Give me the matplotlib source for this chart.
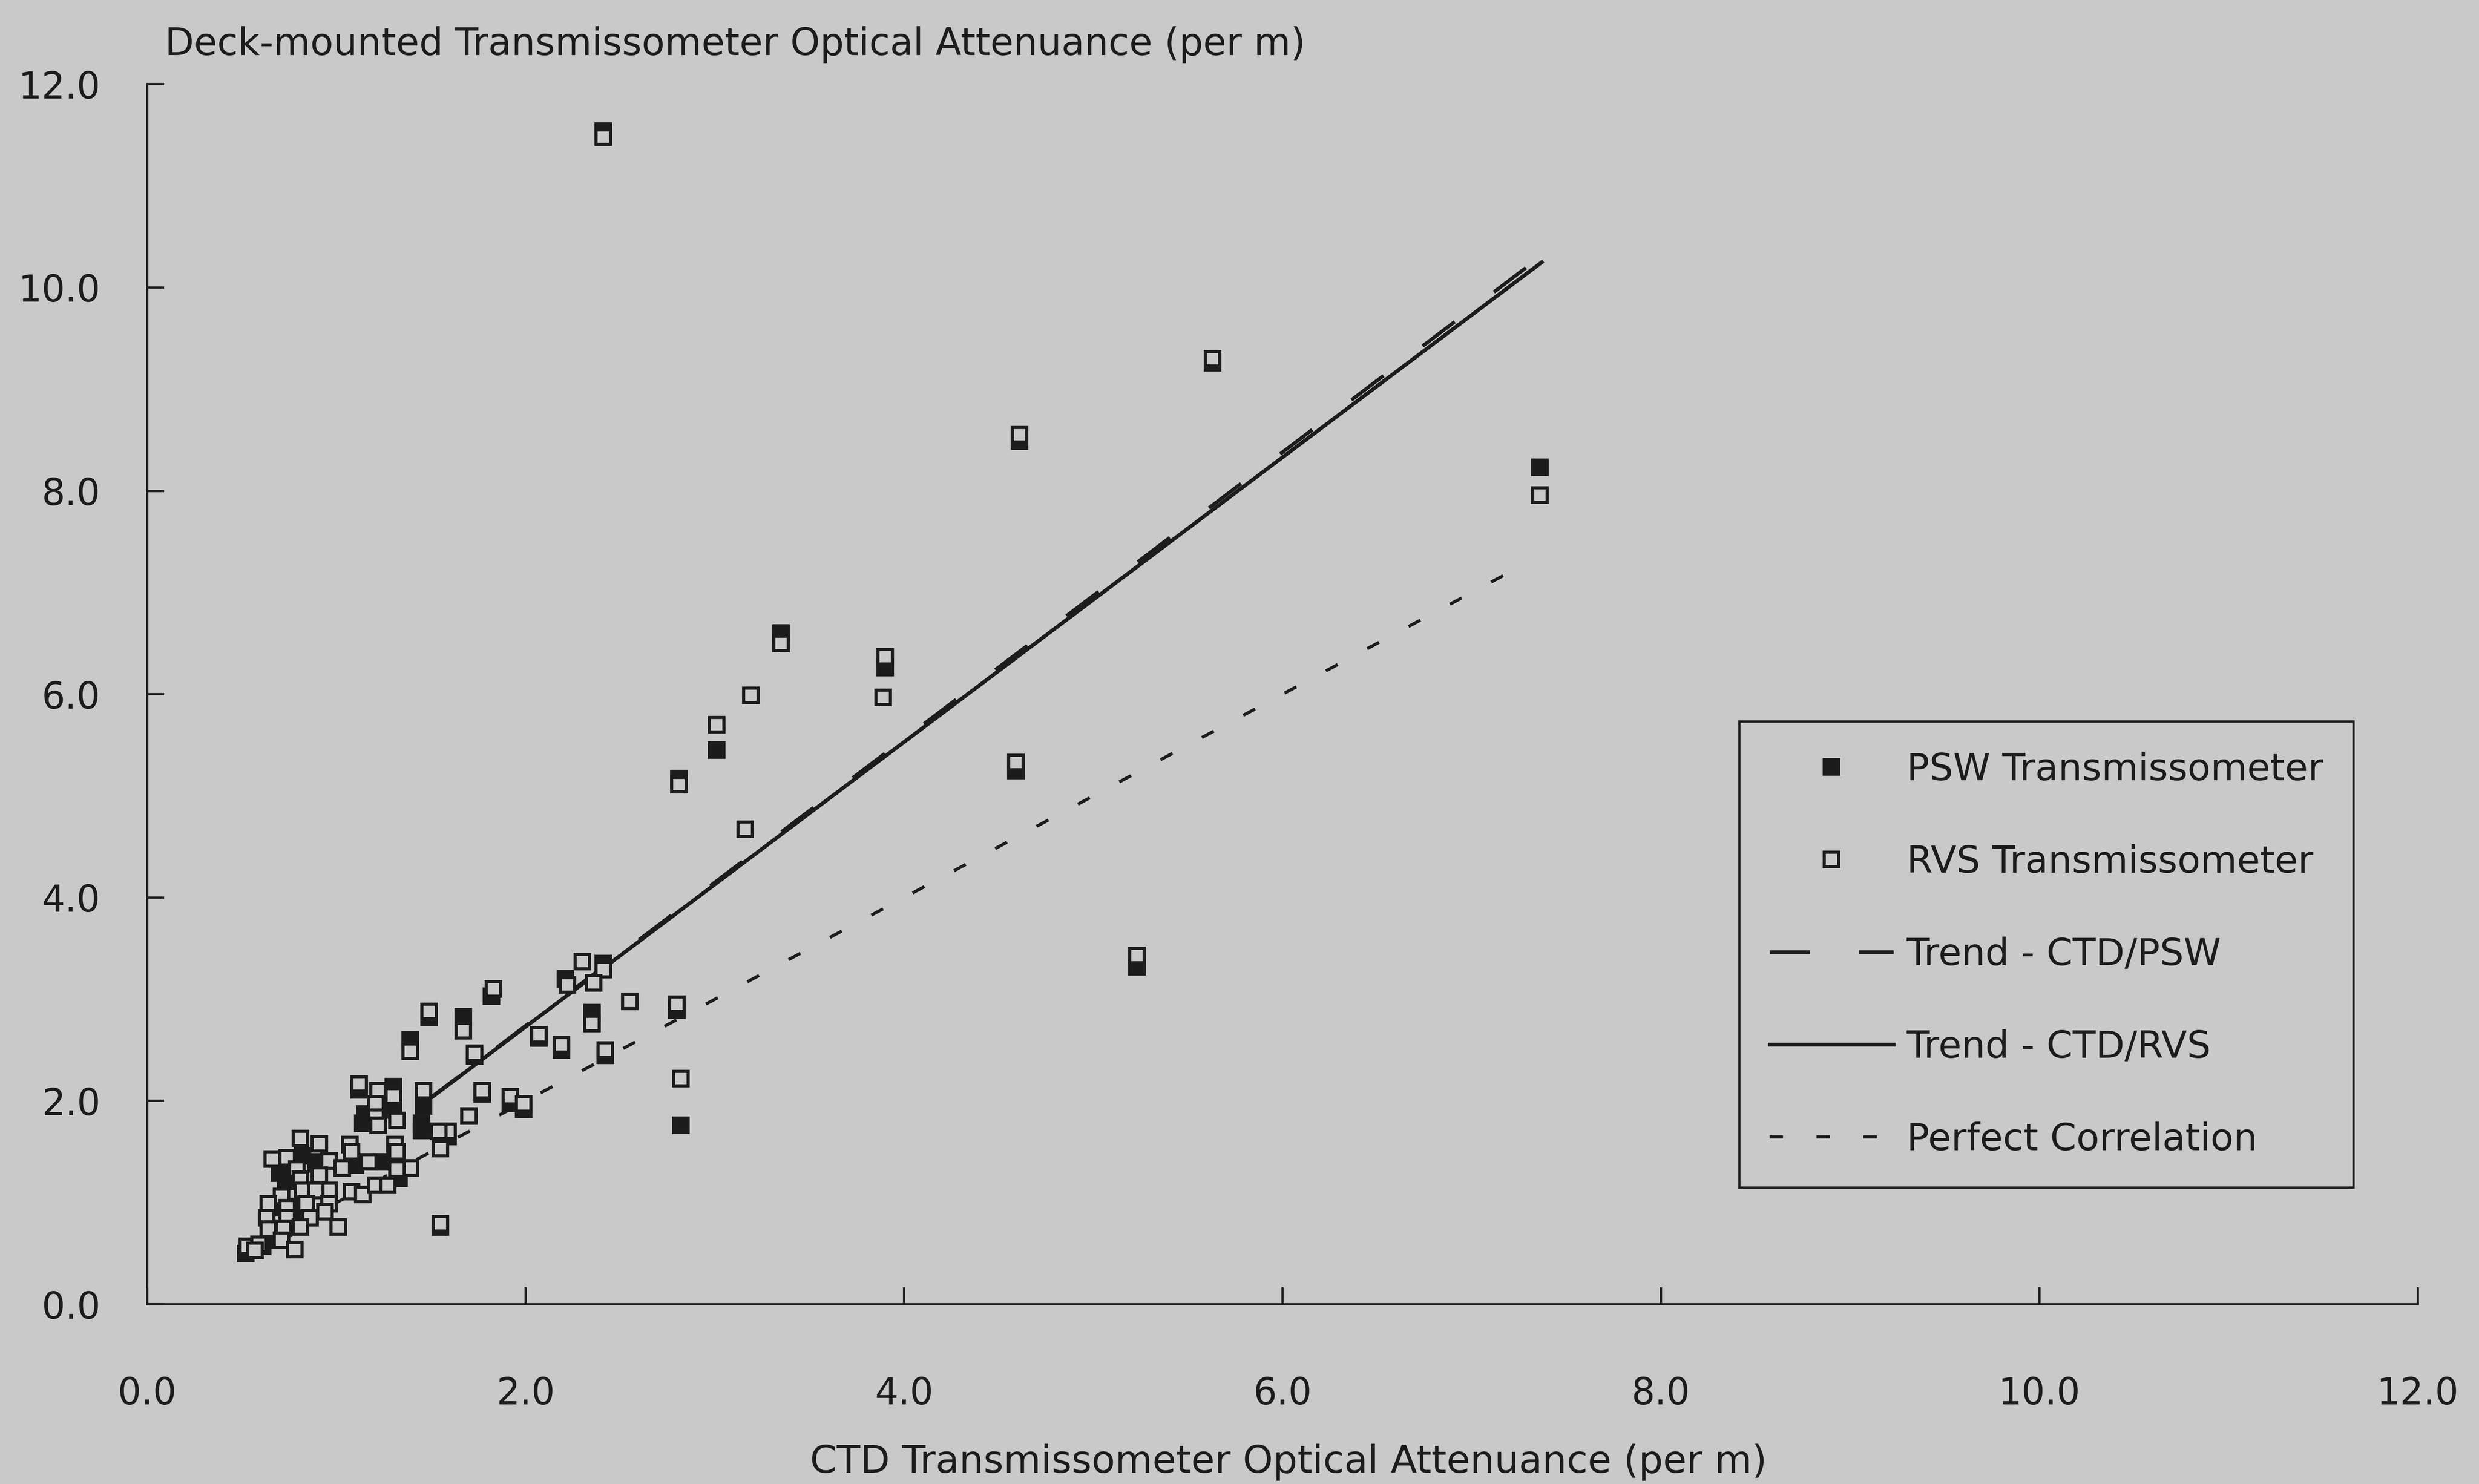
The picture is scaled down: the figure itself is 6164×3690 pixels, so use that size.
import numpy as np
import matplotlib
matplotlib.use('Agg')
from matplotlib import pyplot as plt

# CTD (x) vs deck-mounted transmissometer (y) attenuance
psw_x = [2.41, 5.63, 4.61, 7.36, 3.35, 3.90, 3.01, 2.81, 4.59, 5.23, 2.80, 2.82,
         1.82, 1.67, 2.41, 2.21, 2.35, 2.19, 2.42, 1.92, 1.99, 1.59, 1.73, 2.07, 1.77,
         1.49, 1.39, 1.12, 1.30, 1.46, 1.15, 1.45, 1.14, 1.30,
         0.82, 0.70, 0.90, 1.10, 1.23, 1.45, 0.73, 1.33, 0.70, 0.78, 0.80, 0.66,
         0.52, 0.61, 1.55, 0.89]
psw_y = [11.54, 9.26, 8.49, 8.23, 6.60, 6.26, 5.45, 5.17, 5.25, 3.32, 2.89, 1.76,
         3.03, 2.83, 3.35, 3.20, 2.87, 2.50, 2.45, 1.98, 1.92, 1.65, 2.44, 2.62, 2.07,
         2.82, 2.60, 2.11, 2.14, 1.95, 1.87, 1.78, 1.78, 1.91,
         1.46, 1.29, 1.40, 1.37, 1.40, 1.71, 1.21, 1.24, 0.95, 0.96, 0.88, 0.63,
         0.50, 0.57, 0.76, 1.38]

rvs_x = [2.41, 5.63, 4.61, 7.36, 3.35, 3.90, 3.89, 3.19, 3.01, 2.81, 4.59, 3.16,
         5.23, 2.55, 2.80, 2.82, 1.55,
         1.83, 1.67, 1.73, 2.30, 2.41, 2.22, 2.36, 2.35, 2.07, 2.19, 2.42, 1.77,
         1.92, 1.99, 1.70, 1.59,
         1.49, 1.39, 1.12, 1.22, 1.30, 1.46, 1.21, 1.21, 1.32, 1.22, 1.54, 0.81,
         0.91, 1.07, 1.31,
         0.66, 0.74, 0.79, 0.96, 1.03, 1.08, 1.17, 1.32, 1.39, 1.55, 0.91, 0.81,
         0.82, 0.96, 0.89, 1.08, 1.14, 1.21, 1.27, 1.32, 0.71, 0.64, 0.96, 0.74,
         0.84, 0.63, 0.74, 0.86, 0.94, 1.01, 0.72, 0.81, 0.64, 0.71, 0.78, 0.53,
         0.59, 0.57]
rvs_y = [11.48, 9.30, 8.55, 7.96, 6.50, 6.37, 5.97, 5.99, 5.70, 5.11, 5.33, 4.67,
         3.43, 2.98, 2.95, 2.22, 0.79,
         3.10, 2.69, 2.47, 3.37, 3.29, 3.14, 3.16, 2.76, 2.65, 2.55, 2.50, 2.10,
         2.04, 1.97, 1.85, 1.70,
         2.88, 2.49, 2.17, 2.10, 2.05, 2.10, 1.97, 1.84, 1.81, 1.76, 1.70, 1.63,
         1.58, 1.57, 1.57,
         1.43, 1.44, 1.33, 1.41, 1.34, 1.50, 1.40, 1.50, 1.34, 1.53, 1.27, 1.23,
         1.12, 1.12, 1.12, 1.11, 1.08, 1.17, 1.17, 1.33, 1.06, 0.99, 0.99, 0.95,
         0.99, 0.85, 0.85, 0.85, 0.91, 0.76, 0.75, 0.76, 0.74, 0.63, 0.54, 0.57,
         0.59, 0.53]

# trend lines (slope, intercept) and their x range
trend_psw = (1.41, -0.08)
trend_rvs = (1.40, -0.07)
trend_range = [1.47, 7.37]
perfect_range = [0.55, 7.22]

ticks = [0, 2, 4, 6, 8, 10, 12]
tick_labels = ['0.0', '2.0', '4.0', '6.0', '8.0', '10.0', '12.0']

bg = '#c9c9c9'
ink = '#1c1c1c'
plt.rcParams['font.family'] = ['DejaVu Sans']
plt.rcParams['lines.scale_dashes'] = False

fig = plt.figure(figsize=(15.41, 9.225), dpi=400, facecolor=bg)
ax = fig.add_axes([0.0594, 0.1211, 0.9159, 0.8222])
ax.set_facecolor(bg)

tx = np.array(trend_range)
ax.plot(tx, trend_psw[0] * tx + trend_psw[1], color=ink, lw=1.6, dashes=[18, 22],
        label='Trend - CTD/PSW', zorder=2)
ax.plot(tx, trend_rvs[0] * tx + trend_rvs[1], color=ink, lw=1.7,
        label='Trend - CTD/RVS', zorder=2)
px = np.array(perfect_range)
ax.plot(px, px, color=ink, lw=1.4, dashes=[6, 15], label='Perfect Correlation', zorder=2)

ax.plot(psw_x, psw_y, ls='none', marker='s', ms=6.6, mfc=ink, mec=ink, mew=1.4,
        label='PSW Transmissometer', zorder=3)
ax.plot(rvs_x, rvs_y, ls='none', marker='s', ms=6.6, mfc=bg, mec=ink, mew=1.4,
        label='RVS Transmissometer', zorder=4)

ax.set_xlim(0, 12)
ax.set_ylim(0, 12)
ax.set_xticks(ticks)
ax.set_xticklabels(tick_labels)
ax.set_yticks(ticks)
ax.set_yticklabels(tick_labels)
ax.tick_params(axis='both', direction='in', length=7.5, width=1.0, color=ink,
               labelsize=16.5, labelcolor=ink)
ax.tick_params(axis='x', pad=32)
ax.tick_params(axis='y', pad=21)
for s in ['top', 'right']:
    ax.spines[s].set_visible(False)
for s in ['left', 'bottom']:
    ax.spines[s].set_linewidth(1.0)
    ax.spines[s].set_color(ink)

fig.text(0.0665, 0.9629, 'Deck-mounted Transmissometer Optical Attenuance (per m)',
         fontsize=16.9, color=ink, ha='left', va='baseline')
fig.text(0.5198, 0.0075, 'CTD Transmissometer Optical Attenuance (per m)',
         fontsize=17.2, color=ink, ha='center', va='baseline')

handles, labels = ax.get_legend_handles_labels()
order = [3, 4, 0, 1, 2]
leg = ax.legend([handles[i] for i in order], [labels[i] for i in order],
                loc='upper left', bbox_to_anchor=(0.7017, 0.5138),
                bbox_transform=fig.transFigure, fontsize=16.8, frameon=True,
                fancybox=False, framealpha=1, facecolor=bg, edgecolor=ink,
                handlelength=3.3, handletextpad=0.35, labelspacing=1.5,
                borderpad=0.8, borderaxespad=0)
leg.get_frame().set_linewidth(1.0)
for t in leg.get_texts():
    t.set_color(ink)

fig.savefig('out.png', dpi=400, facecolor=bg)
